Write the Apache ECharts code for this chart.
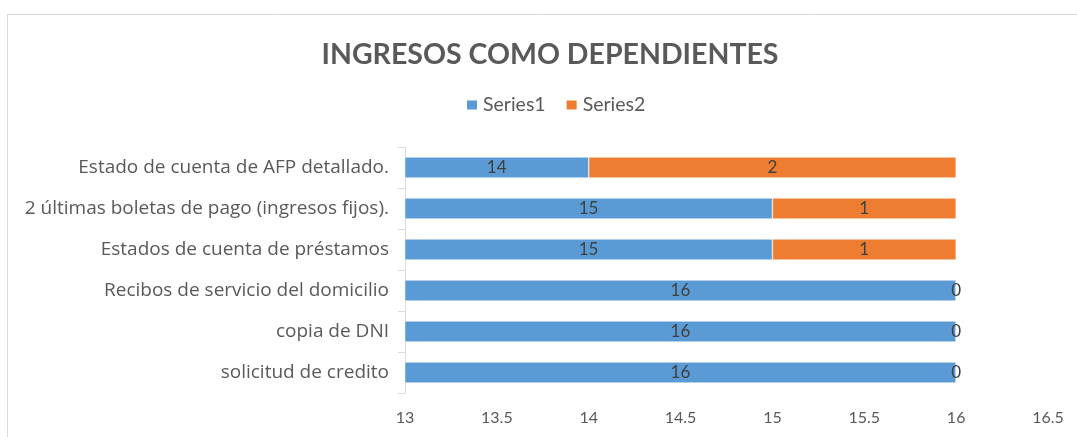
<!DOCTYPE html>
<html>
<head>
<meta charset="utf-8">
<script src="https://cdn.jsdelivr.net/npm/echarts@6/dist/echarts.min.js"></script>
<style>
    html, body { margin: 0; padding: 0; background: #fff; }
    #chart { width: 1077px; height: 437px; }
</style>
</head>
<body>
<div id="chart"></div>
<script>
// categories listed bottom to top (category axis starts at the bottom)
const categories = [
    "solicitud de credito",
    "copia de DNI",
    "Recibos de servicio del domicilio",
    "Estados de cuenta de préstamos",
    "2 últimas boletas de pago (ingresos fijos).",
    "Estado de cuenta de AFP detallado."
];
const series1 = [16, 16, 16, 15, 15, 14];
const series2 = [0, 0, 0, 1, 1, 2];
const seriesNames = ["Series1", "Series2"];

const fontFamily = "Lato, 'Open Sans', sans-serif";
const labelStyle = {
    show: true,
    position: "inside",
    color: "#404040",
    fontSize: 17,
    fontFamily: fontFamily
};

const myChart = echarts.init(document.getElementById("chart"));
const option = {
    animation: false,
    graphic: [
        {
            type: "rect",
            shape: { x: 7.5, y: 14.5, width: 1100, height: 450 },
            style: { fill: "none", stroke: "#d9d9d9", lineWidth: 1 },
            silent: true
        }
    ],
    title: {
        text: "INGRESOS COMO DEPENDIENTES",
        left: 545,
        textAlign: "center",
        top: 35,
        textStyle: {
            color: "#595959",
            fontSize: 28.5,
            fontWeight: "bold",
            fontFamily: fontFamily
        }
    },
    legend: {
        data: seriesNames,
        left: 465,
        top: 95,
        padding: 0,
        itemWidth: 12,
        itemHeight: 11,
        itemGap: 19,
        icon: "rect",
        textStyle: { color: "#595959", fontSize: 19.5, fontFamily: fontFamily }
    },
    grid: {
        left: 405,
        right: 29,
        top: 147,
        bottom: 44
    },
    xAxis: {
        type: "value",
        min: 13,
        max: 16.5,
        interval: 0.5,
        axisLine: { show: false },
        axisTick: { show: false },
        splitLine: { show: false },
        axisLabel: {
            color: "#595959",
            fontSize: 16,
            fontFamily: fontFamily,
            margin: 17
        }
    },
    yAxis: {
        type: "category",
        data: categories,
        axisLine: { show: true, lineStyle: { color: "#d9d9d9" } },
        axisTick: { show: true, length: 7, lineStyle: { color: "#d9d9d9" } },
        axisLabel: {
            color: "#595959",
            fontSize: 19,
            fontFamily: "'Open Sans', Lato, sans-serif",
            margin: 16
        }
    },
    series: [
        {
            name: seriesNames[0],
            type: "bar",
            stack: "total",
            data: series1,
            barWidth: 21,
            itemStyle: { color: "#5B9BD5", borderColor: "#fff", borderWidth: 0.5 },
            label: labelStyle
        },
        {
            name: seriesNames[1],
            type: "bar",
            stack: "total",
            data: series2,
            barWidth: 21,
            itemStyle: { color: "#ED7D31", borderColor: "#fff", borderWidth: 0.5 },
            label: labelStyle
        }
    ]
};
myChart.setOption(option);
window.addEventListener("resize", () => myChart.resize());
</script>
</body>
</html>
